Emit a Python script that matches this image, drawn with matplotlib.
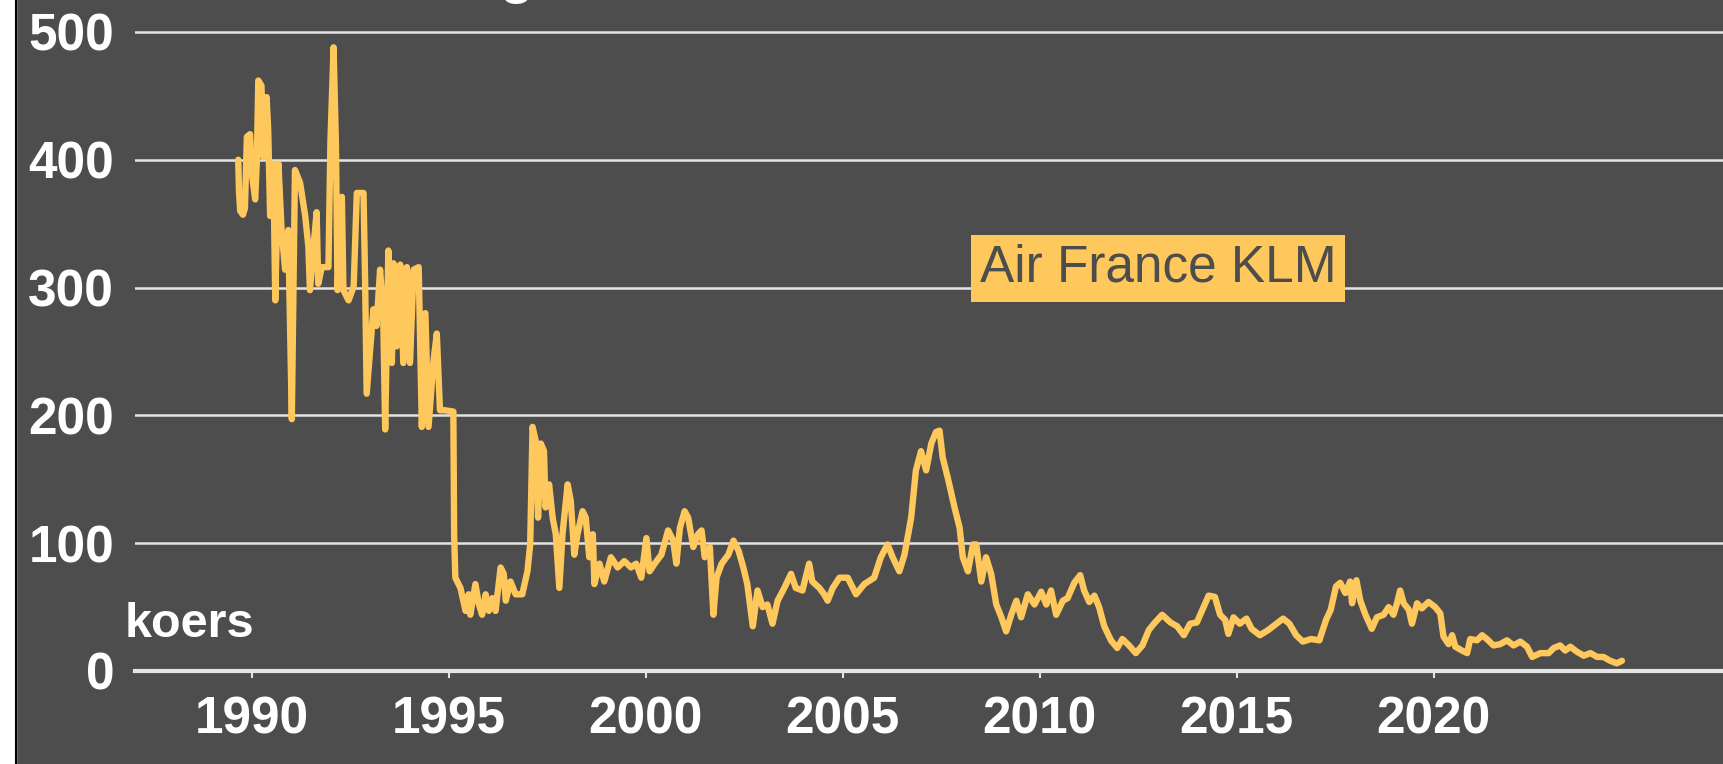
import matplotlib
matplotlib.use("Agg")
import matplotlib.pyplot as plt
from matplotlib.patches import Rectangle
from matplotlib.lines import Line2D

# Air France KLM koers (decimal year, koers)
years_1989_1995 = [
    1989.66, 1989.68, 1989.71, 1989.78, 1989.83, 1989.88, 1989.96, 1990.00,
    1990.09, 1990.13, 1990.17, 1990.25, 1990.30, 1990.38, 1990.42, 1990.47,
    1990.55, 1990.60, 1990.68, 1990.76, 1990.85, 1990.93, 1991.02, 1991.06,
    1991.10, 1991.23, 1991.36, 1991.44, 1991.48, 1991.57, 1991.65, 1991.69,
    1991.78, 1991.95, 1992.00, 1992.08, 1992.14, 1992.18, 1992.29, 1992.33,
    1992.46, 1992.59, 1992.67, 1992.84, 1992.88, 1992.92, 1993.09, 1993.17,
    1993.26, 1993.34, 1993.39, 1993.47, 1993.56, 1993.60, 1993.68, 1993.77,
    1993.85, 1993.94, 1994.02, 1994.11, 1994.24, 1994.32, 1994.41, 1994.49,
    1994.62, 1994.70, 1994.78, 1994.90, 1995.12,
]
koers_1989_1995 = [
    400, 375, 360, 357, 362, 418, 420, 390,
    369, 397, 462, 458, 402, 449, 424, 356,
    397, 290, 397, 345, 314, 345, 197, 298,
    392, 382, 356, 332, 298, 332, 359, 303,
    316, 316, 414, 488, 411, 298, 371, 298,
    290, 301, 374, 374, 306, 217, 283, 270,
    314, 278, 189, 329, 241, 319, 254, 318,
    241, 316, 241, 314, 316, 191, 280, 191,
    244, 264, 204, 204, 203,
]

years_1995_2002 = [
    1995.14, 1995.17, 1995.30, 1995.43, 1995.51, 1995.55, 1995.68, 1995.77,
    1995.85, 1995.94, 1996.02, 1996.11, 1996.19, 1996.32, 1996.40, 1996.45,
    1996.57, 1996.70, 1996.87, 1997.00, 1997.07, 1997.13, 1997.21, 1997.27,
    1997.34, 1997.42, 1997.46, 1997.55, 1997.64, 1997.72, 1997.81, 1997.89,
    1998.02, 1998.10, 1998.19, 1998.27, 1998.40, 1998.48, 1998.57, 1998.66,
    1998.70, 1998.83, 1998.95, 1999.12, 1999.29, 1999.46, 1999.63, 1999.76,
    1999.89, 2000.02, 2000.10, 2000.23, 2000.40, 2000.57, 2000.70, 2000.78,
    2000.87, 2000.99, 2001.08, 2001.21, 2001.33, 2001.42, 2001.50, 2001.63,
    2001.72, 2001.80, 2001.93, 2002.10, 2002.23, 2002.36, 2002.48, 2002.58,
    2002.72,
]
koers_1995_2002 = [
    107, 73, 65, 47, 60, 44, 68, 52,
    44, 60, 47, 57, 47, 81, 76, 55,
    70, 60, 60, 78, 99, 191, 180, 120,
    178, 172, 128, 146, 120, 107, 65, 107,
    146, 133, 91, 107, 125, 120, 89, 107,
    68, 84, 70, 89, 81, 86, 81, 84,
    73, 104, 78, 84, 91, 110, 102, 84,
    112, 125, 120, 97, 107, 110, 89, 97,
    44, 73, 84, 91, 102, 94, 81, 68,
    35,
]

years_2002_2010 = [
    2002.84, 2002.97, 2003.09, 2003.22, 2003.35, 2003.52, 2003.69, 2003.81,
    2003.98, 2004.15, 2004.23, 2004.41, 2004.53, 2004.62, 2004.75, 2004.92,
    2005.13, 2005.34, 2005.55, 2005.80, 2005.97, 2006.14, 2006.27, 2006.44,
    2006.57, 2006.74, 2006.86, 2006.99, 2007.12, 2007.25, 2007.37, 2007.46,
    2007.54, 2007.67, 2007.84, 2007.97, 2008.05, 2008.18, 2008.31, 2008.39,
    2008.52, 2008.64, 2008.77, 2008.90, 2009.03, 2009.15, 2009.28, 2009.41,
    2009.53, 2009.70, 2009.87,
]
koers_2002_2010 = [
    63, 50, 52, 37, 55, 65, 76, 65,
    63, 84, 70, 65, 60, 55, 65, 73,
    73, 60, 68, 73, 89, 99, 89, 78,
    91, 120, 157, 172, 157, 178, 187, 188,
    167, 151, 128, 112, 89, 78, 99, 99,
    70, 89, 76, 52, 42, 31, 44, 55,
    42, 60, 52,
]

years_2010_2017 = [
    2010.04, 2010.17, 2010.29, 2010.42, 2010.59, 2010.71, 2010.88, 2011.03,
    2011.13, 2011.26, 2011.39, 2011.51, 2011.64, 2011.81, 2011.97, 2012.10,
    2012.27, 2012.44, 2012.61, 2012.77, 2012.90, 2013.11, 2013.32, 2013.49,
    2013.66, 2013.82, 2013.99, 2014.16, 2014.29, 2014.45, 2014.58, 2014.71,
    2014.79, 2014.92, 2015.08, 2015.25, 2015.38, 2015.59, 2015.80, 2016.01,
    2016.18, 2016.34, 2016.51, 2016.68, 2016.89, 2017.10, 2017.27, 2017.39,
    2017.52,
]
koers_2010_2017 = [
    62, 52, 63, 44, 55, 57, 69, 75,
    63, 54, 59, 50, 35, 24, 18, 25,
    20, 14, 20, 32, 37, 44, 38, 35,
    28, 37, 38, 50, 59, 58, 44, 40,
    29, 42, 37, 41, 33, 28, 32, 37,
    41, 37, 28, 23, 25, 24, 40, 48,
    66,
]

years_2017_2024 = [
    2017.63, 2017.76, 2017.88, 2017.93, 2018.04, 2018.14, 2018.27, 2018.43,
    2018.56, 2018.73, 2018.86, 2018.98, 2019.07, 2019.15, 2019.24, 2019.37,
    2019.45, 2019.58, 2019.70, 2019.87, 2020.04, 2020.17, 2020.25, 2020.38,
    2020.47, 2020.55, 2020.72, 2020.85, 2020.93, 2021.10, 2021.23, 2021.35,
    2021.52, 2021.69, 2021.86, 2022.03, 2022.20, 2022.37, 2022.50, 2022.71,
    2022.92, 2023.05, 2023.21, 2023.34, 2023.47, 2023.64, 2023.81, 2023.98,
    2024.15, 2024.31, 2024.48, 2024.65, 2024.78,
]
koers_2017_2024 = [
    69, 61, 70, 53, 71, 55, 44, 33,
    42, 44, 50, 44, 53, 63, 53, 48,
    37, 53, 49, 54, 50, 45, 27, 21,
    28, 19, 16, 14, 25, 24, 28, 25,
    20, 21, 24, 20, 23, 19, 11, 14,
    14, 18, 20, 16, 19, 15, 12, 14,
    11, 11, 8, 6, 8,
]

x_ticks = [1990, 1995, 2000, 2005, 2010, 2015, 2020]
y_ticks = [0, 100, 200, 300, 400, 500]
series_label = "Air France KLM"
y_label = "koers"

years = (years_1989_1995 + years_1995_2002 + years_2002_2010
         + years_2010_2017 + years_2017_2024)
koers = (koers_1989_1995 + koers_1995_2002 + koers_2002_2010
         + koers_2010_2017 + koers_2017_2024)

BG = "#4d4d4d"
YELLOW = "#fec85c"
GRID = "#e4e4e4"
W, H = 1724, 764

plt.rcParams["font.family"] = ["Liberation Sans", "DejaVu Sans"]

fig = plt.figure(figsize=(W / 100, H / 100), dpi=100, facecolor=BG)
ax = fig.add_axes([135 / W, 93 / H, (W - 135) / W, 664.6 / H])
ax.set_facecolor(BG)

ax.plot(years, koers, color=YELLOW, lw=4.6,
        solid_joinstyle="round", solid_capstyle="round", zorder=3)

ax.set_xlim(1987.04, 2027.37)
ax.set_ylim(0, 520)
ax.set_xticks(x_ticks)
ax.set_yticks(y_ticks)

# horizontal grid only, axis line at 0 is heavier
ax.yaxis.grid(True, color=GRID, lw=1.8)
ax.set_axisbelow(True)
for side in ["top", "right", "left"]:
    ax.spines[side].set_visible(False)
ax.spines["bottom"].set_color(GRID)
ax.spines["bottom"].set_linewidth(3)
ax.spines["bottom"].set_zorder(4)

ax.tick_params(axis="y", length=0, pad=15, labelsize=37, labelcolor="white")
ax.tick_params(axis="x", length=5, width=1.5, color=GRID, pad=13,
               labelsize=37, labelcolor="white")
for lab in ax.get_xticklabels() + ax.get_yticklabels():
    lab.set_fontweight("bold")

# series label in a yellow box
ax.text(2013.0, 315, series_label, ha="center", va="center", fontsize=37,
        color=BG, zorder=5,
        bbox=dict(boxstyle="square,pad=0.17", fc=YELLOW, ec="none"))

fig.text(125 / W, 1 - 637 / H, y_label, ha="left", va="baseline",
         fontsize=35, fontweight="bold", color="white")

# cut-off title at the top edge, as in the source
fig.text(517 / W, 1 + 7.6 / H, "g", ha="center", va="baseline",
         fontsize=40, fontweight="bold", color="white")

# white strip with black border on the left edge
fig.add_artist(Rectangle((0, 0), 16 / W, 1, transform=fig.transFigure,
                         color="white", zorder=10))
fig.add_artist(Line2D([16.5 / W, 16.5 / W], [0, 1], transform=fig.transFigure,
                      color="black", lw=1.5, zorder=11))

fig.savefig("out.png", dpi=100, facecolor=BG)
